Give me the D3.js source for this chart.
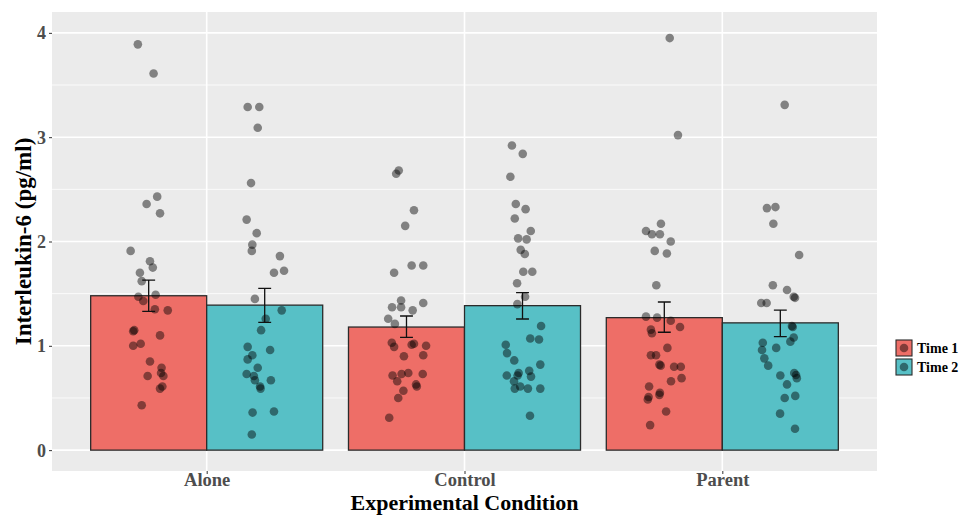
<!DOCTYPE html>
<html>
<head>
<meta charset="utf-8">
<script src="https://cdn.jsdelivr.net/npm/d3@7"></script>
<style>
  html, body { margin: 0; padding: 0; background: #fff; }
  svg { display: block; }
  text { font-family: "Liberation Serif", "DejaVu Serif", serif; font-weight: bold; }
</style>
</head>
<body>
<svg id="chart" width="971" height="515"></svg>
<script>
// ── data ─────────────────────────────────────────────────────────────
const conditions = ["Alone", "Control", "Parent"];
const times      = ["Time 1", "Time 2"];
const timeColors = ["#EE6E67", "#57C0C6"];

// bar heights (means) and error bar ends, per condition × time
const means   = [[1.48, 1.39], [1.18, 1.385], [1.27, 1.22]];
const errLow  = [[1.33, 1.225], [1.08, 1.257], [1.13, 1.088]];
const errHigh = [[1.63, 1.55], [1.286, 1.51], [1.42, 1.343]];

// individual observations (pg/ml) and their horizontal jitter (category units)
const aloneT1 = [3.89, 3.61, 2.43, 2.36, 2.27, 1.91, 1.81, 1.75, 1.70, 1.62, 1.47, 1.49, 1.43, 1.35,
  1.34, 1.15, 1.14, 1.10, 1.00, 1.02, 0.85, 0.79, 0.74, 0.71, 0.71, 0.61, 0.59, 0.43];
const aloneT1J = [-0.042, 0.019, 0.033, -0.008, 0.044, -0.070, 0.005, 0.016, -0.034, -0.027, -0.040,
  0.027, -0.021, 0.024, 0.074, -0.056, -0.060, 0.044, -0.060, -0.031, 0.005, 0.050, 0.048, -0.004,
  0.057, 0.053, 0.044, -0.027];

const aloneT2 = [3.29, 3.29, 3.09, 2.56, 2.21, 2.08, 1.97, 1.91, 1.86, 1.70, 1.72, 1.45, 1.34, 1.26,
  1.15, 0.99, 0.96, 0.91, 0.87, 0.79, 0.73, 0.71, 0.67, 0.67, 0.61, 0.59, 0.36, 0.37, 0.15];
const aloneT2J = [-0.066, -0.021, -0.027, -0.053, -0.070, -0.031, -0.048, -0.050, 0.059, 0.036, 0.075,
  -0.038, 0.066, 0.004, -0.014, -0.066, 0.021, -0.048, -0.066, -0.027, -0.070, -0.042, -0.038, 0.024,
  -0.018, -0.016, -0.047, 0.036, -0.050];

const controlT1 = [2.68, 2.65, 2.30, 2.15, 1.70, 1.77, 1.77, 1.37, 1.435, 1.37, 1.34, 1.41, 1.26, 1.21,
  1.03, 0.99, 1.01, 1.02, 1.00, 0.91, 0.90, 0.715, 0.73, 0.74, 0.73, 0.66, 0.63, 0.61, 0.57, 0.50, 0.31];
const controlT1J = [-0.030, -0.040, 0.029, -0.005, -0.048, 0.020, 0.065, -0.056, -0.021, -0.021, 0.024,
  0.065, -0.071, -0.045, -0.057, -0.048, 0.020, 0.029, 0.076, 0.065, -0.010, -0.054, -0.019, 0.007,
  0.063, -0.036, 0.037, 0.040, -0.012, -0.032, -0.067];

const controlT2 = [2.92, 2.84, 2.62, 2.36, 2.31, 2.22, 2.10, 2.03, 2.02, 1.92, 1.88, 1.71, 1.71, 1.60,
  1.47, 1.40, 1.19, 1.07, 1.06, 1.01, 0.93, 0.86, 0.82, 0.715, 0.74, 0.76, 0.715, 0.705, 0.66, 0.59,
  0.61, 0.59, 0.59, 0.33];
const controlT2J = [-0.041, 0.001, -0.047, -0.026, 0.012, -0.030, 0.032, -0.017, 0.016, -0.007, 0.009,
  0.003, 0.038, -0.021, 0.010, -0.020, 0.072, 0.030, 0.064, -0.065, -0.060, -0.032, 0.069, -0.061,
  -0.015, 0.026, -0.019, 0.033, -0.033, -0.030, -0.009, 0.021, 0.069, 0.029];

const parentT1 = [3.95, 3.02, 2.17, 2.10, 2.07, 2.07, 2.00, 1.91, 1.885, 1.58, 1.28, 1.27, 1.24, 1.18,
  1.155, 1.12, 0.98, 0.91, 0.91, 0.82, 0.81, 0.80, 0.80, 0.69, 0.66, 0.61, 0.55, 0.53, 0.51, 0.485,
  0.37, 0.24];
const parentT1J = [0.021, 0.053, -0.013, -0.071, -0.048, -0.017, 0.025, -0.037, 0.010, -0.031, -0.071,
  -0.028, 0.025, 0.061, -0.052, -0.048, 0.012, -0.052, -0.032, -0.019, -0.014, 0.038, 0.064, 0.067,
  0.026, -0.059, -0.017, -0.019, -0.061, -0.064, 0.007, -0.055];

const parentT2 = [3.31, 2.32, 2.33, 2.17, 1.87, 1.58, 1.535, 1.47, 1.46, 1.41, 1.41, 1.19, 1.18, 1.08,
  1.04, 1.03, 0.98, 0.96, 0.88, 0.81, 0.74, 0.72, 0.69, 0.715, 0.63, 0.50, 0.52, 0.35, 0.205];
const parentT2J = [0.017, -0.052, -0.019, -0.027, 0.073, -0.029, 0.026, 0.052, 0.057, -0.074, -0.053,
  0.045, 0.048, 0.052, 0.039, -0.068, -0.016, -0.071, -0.062, -0.047, 0.054, 0.061, 0.064, 0.000,
  0.026, 0.017, 0.058, -0.001, 0.057];

const obs    = [[aloneT1, aloneT2], [controlT1, controlT2], [parentT1, parentT2]];
const jitter = [[aloneT1J, aloneT2J], [controlT1J, controlT2J], [parentT1J, parentT2J]];

const yTicks = [0, 1, 2, 3, 4];

// ── layout ───────────────────────────────────────────────────────────
const svg = d3.select("#chart");
const panel = { left: 52, right: 877, top: 12, bottom: 471 };

const x = d3.scaleLinear().domain([-0.6, 2.6]).range([panel.left, panel.right]);
const y = d3.scaleLinear().domain([-0.2, 4.2]).range([panel.bottom, panel.top]);
const dodge = 0.9;                      // ggplot position_dodge width
const barW  = dodge / times.length;     // in category units
const xc = (ci, ti) => ci - dodge / 2 + barW * (ti + 0.5);

// panel background
svg.append("rect")
  .attr("x", panel.left).attr("y", panel.top)
  .attr("width", panel.right - panel.left).attr("height", panel.bottom - panel.top)
  .attr("fill", "#EBEBEB");

// grid
const grid = svg.append("g");
const minorY = d3.range(-0.5, 4.5, 1).filter(v => v > -0.2 && v < 4.2);
grid.selectAll("line.minor").data(minorY).join("line")
  .attr("x1", panel.left).attr("x2", panel.right)
  .attr("y1", d => y(d)).attr("y2", d => y(d))
  .attr("stroke", "#fff").attr("stroke-width", 0.8);
grid.selectAll("line.majorY").data(yTicks).join("line")
  .attr("x1", panel.left).attr("x2", panel.right)
  .attr("y1", d => y(d)).attr("y2", d => y(d))
  .attr("stroke", "#fff").attr("stroke-width", 1.6);
grid.selectAll("line.majorX").data(conditions).join("line")
  .attr("x1", (d, i) => x(i)).attr("x2", (d, i) => x(i))
  .attr("y1", panel.top).attr("y2", panel.bottom)
  .attr("stroke", "#fff").attr("stroke-width", 1.6);

// bars
const barData = [];
conditions.forEach((c, ci) => times.forEach((t, ti) => barData.push({ ci, ti })));

svg.append("g").selectAll("rect").data(barData).join("rect")
  .attr("x", d => x(xc(d.ci, d.ti) - barW / 2))
  .attr("width", d => x(barW) - x(0))
  .attr("y", d => y(means[d.ci][d.ti]))
  .attr("height", d => y(0) - y(means[d.ci][d.ti]))
  .attr("fill", d => timeColors[d.ti])
  .attr("stroke", "#2b2b2b").attr("stroke-width", 1.3);

// jittered points
const pts = [];
obs.forEach((byTime, ci) => byTime.forEach((vals, ti) =>
  vals.forEach((v, k) => pts.push({ v, px: xc(ci, ti) + jitter[ci][ti][k] }))));

svg.append("g").selectAll("circle").data(pts).join("circle")
  .attr("cx", d => x(d.px))
  .attr("cy", d => y(d.v))
  .attr("r", 4.3)
  .attr("fill", "#000").attr("fill-opacity", 0.45);

// error bars
const cap = 0.025;
const eb = svg.append("g").attr("stroke", "#111").attr("stroke-width", 1.3).attr("fill", "none");
barData.forEach(d => {
  const cx = xc(d.ci, d.ti), lo = errLow[d.ci][d.ti], hi = errHigh[d.ci][d.ti];
  eb.append("path").attr("d",
    `M${x(cx - cap)},${y(hi)}H${x(cx + cap)}` +
    `M${x(cx)},${y(hi)}V${y(lo)}` +
    `M${x(cx - cap)},${y(lo)}H${x(cx + cap)}`);
});

// axes
const yAxis = svg.append("g")
  .attr("transform", `translate(${panel.left},0)`)
  .call(d3.axisLeft(y).tickValues(yTicks).tickFormat(d3.format("d")).tickSize(3).tickPadding(3));
const xAxis = svg.append("g")
  .attr("transform", `translate(0,${panel.bottom})`)
  .call(d3.axisBottom(x).tickValues([0, 1, 2]).tickFormat(i => conditions[i]).tickSize(3).tickPadding(0));

[yAxis, xAxis].forEach(a => {
  a.select(".domain").remove();
  a.selectAll(".tick line").attr("stroke", "#333");
  a.selectAll(".tick text").attr("fill", "#4D4D4D")
    .style("font-family", "'Liberation Serif', serif").style("font-weight", "bold");
});
yAxis.selectAll(".tick text").style("font-size", "18px").attr("dy", "0.34em");
xAxis.selectAll(".tick text").style("font-size", "18.5px").attr("dy", "0.66em");

// axis titles
svg.append("text")
  .attr("transform", `translate(31,${(panel.top + panel.bottom) / 2}) rotate(-90)`)
  .attr("text-anchor", "middle")
  .attr("font-size", 23).attr("fill", "#000")
  .text("Interleukin-6 (pg/ml)");

svg.append("text")
  .attr("x", (panel.left + panel.right) / 2).attr("y", 509.5)
  .attr("text-anchor", "middle")
  .attr("font-size", 22).attr("fill", "#000")
  .text("Experimental Condition");

// legend
const legend = svg.append("g").attr("transform", "translate(896,340)");
times.forEach((t, i) => {
  const row = legend.append("g").attr("transform", `translate(0,${i * 19})`);
  row.append("rect")
    .attr("width", 16).attr("height", 16)
    .attr("fill", timeColors[i])
    .attr("stroke", "#2b2b2b").attr("stroke-width", 1.1);
  row.append("circle")
    .attr("cx", 8).attr("cy", 8).attr("r", 4.3)
    .attr("fill", "#000").attr("fill-opacity", 0.45);
  row.append("text")
    .attr("x", 21).attr("y", 13)
    .attr("font-size", 14).attr("fill", "#000")
    .text(t);
});
</script>
</body>
</html>
